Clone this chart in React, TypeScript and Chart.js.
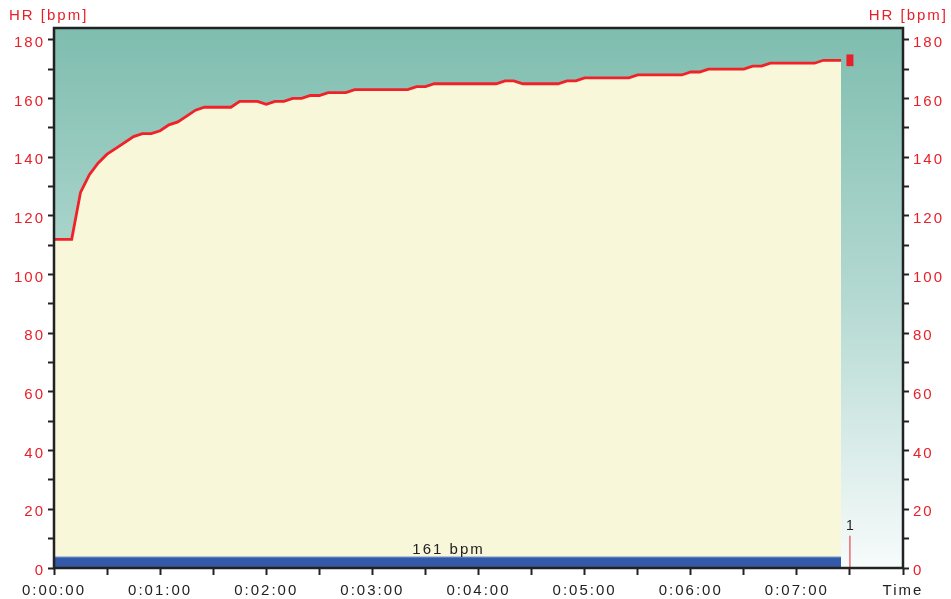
import React, { useEffect, useRef } from "react";
import { Chart, registerables } from "chart.js";

Chart.register(...registerables);

// Heart rate samples (seconds, bpm)
const TIMES = [0, 10, 15, 20, 25, 30, 35, 45, 50, 55, 60, 65, 70, 75, 80, 85, 100, 105, 115, 120, 125, 130, 135, 140, 145, 150, 155, 165, 170, 200, 205, 210, 215, 250, 255, 260, 265, 285, 290, 295, 300, 325, 330, 355, 360, 365, 370, 390, 395, 400, 405, 430, 435, 445];
const HR = [112, 112, 128, 134, 138, 141, 143, 147, 148, 148, 149, 151, 152, 154, 156, 157, 157, 159, 159, 158, 159, 159, 160, 160, 161, 161, 162, 162, 163, 163, 164, 164, 165, 165, 166, 166, 165, 165, 166, 166, 167, 167, 168, 168, 169, 169, 170, 170, 171, 171, 172, 172, 173, 173];

const X_MIN = 0;
const X_MAX = 480;
const Y_MIN = 0;
const Y_MAX = 184;
const X_TICK_STEP = 30;
const Y_TICK_STEP = 10;

const AVG_HR = 161;
const AVG_BAR_START = 0;
const AVG_BAR_END = 445;
const AVG_BAR_HEIGHT = 3.8;

const LAP_TIME = 450;
const LAP_HEIGHT = 11;
const LAP_LABEL = "1";

const CURRENT_TIME = 450;
const CURRENT_LOW = 171;
const CURRENT_HIGH = 175;

const FONT_FAMILY = "'Liberation Sans', Arial, sans-serif";
const FONT_SIZE = 15;
const SPACING = "2px";
const RED = "#e8202a";
const DARK = "#222222";

function fmtTime(v: number): string {
  if (v === X_MAX) return "Time";
  if (v % 60 !== 0) return "";
  const m = Math.floor(v / 60);
  return `0:${m < 10 ? "0" + m : m}:00`;
}

const spacingPlugin = {
  id: "spacing",
  beforeUpdate(chart: any) {
    chart.ctx.letterSpacing = SPACING;
  },
  beforeDraw(chart: any) {
    chart.ctx.letterSpacing = SPACING;
    const { ctx } = chart;
    ctx.save();
    ctx.fillStyle = "#ffffff";
    ctx.fillRect(0, 0, chart.width, chart.height);
    ctx.restore();
  },
};

const backgroundPlugin = {
  id: "bgGradient",
  beforeDatasetsDraw(chart: any) {
    const { ctx, chartArea } = chart;
    const { left, top, right, bottom } = chartArea;
    ctx.save();
    const g = ctx.createLinearGradient(0, top, 0, bottom);
    g.addColorStop(0, "#7ebdaf");
    g.addColorStop(0.5, "#b4d9d2");
    g.addColorStop(1, "#f7fbfb");
    ctx.fillStyle = g;
    ctx.fillRect(left, top, right - left, bottom - top);
    ctx.restore();
  },
  afterDatasetsDraw(chart: any) {
    const { ctx, chartArea, scales } = chart;
    const { left, top, right, bottom } = chartArea;
    const xs = scales.x;
    const ys = scales.y;
    ctx.save();
    ctx.letterSpacing = SPACING;
    ctx.font = `${FONT_SIZE}px ${FONT_FAMILY}`;
    // average label
    ctx.fillStyle = DARK;
    ctx.textAlign = "center";
    ctx.textBaseline = "middle";
    const cx = xs.getPixelForValue((AVG_BAR_START + AVG_BAR_END) / 2);
    ctx.fillText(`${AVG_HR} bpm`, cx + 1, ys.getPixelForValue(AVG_BAR_HEIGHT) - 7);
    // lap label
    ctx.font = `${FONT_SIZE - 1}px ${FONT_FAMILY}`;
    ctx.fillText(LAP_LABEL, xs.getPixelForValue(LAP_TIME) + 1, ys.getPixelForValue(LAP_HEIGHT) - 10);
    ctx.font = `${FONT_SIZE}px ${FONT_FAMILY}`;
    // frame
    ctx.strokeStyle = DARK;
    ctx.lineWidth = 2.5;
    ctx.strokeRect(left, top, right - left, bottom - top);
    // axis titles
    ctx.fillStyle = RED;
    ctx.textBaseline = "alphabetic";
    ctx.textAlign = "left";
    ctx.fillText("HR [bpm]", 9, 20);
    ctx.textAlign = "right";
    ctx.fillText("HR [bpm]", chart.width - 3, 20);
    ctx.restore();
  },
};

export default function App() {
  const ref = useRef<HTMLCanvasElement | null>(null);

  useEffect(() => {
    document.body.style.margin = "0";
    const canvas = ref.current!;
    const hrData = TIMES.map((t, i) => ({ x: t, y: HR[i] }));
    const yTicks = (scale: any) => {
      const t = [];
      for (let v = Y_MIN; v <= Y_MAX; v += Y_TICK_STEP) t.push({ value: v });
      scale.ticks = t;
    };
    const yCommon = {
      type: "linear",
      min: Y_MIN,
      max: Y_MAX,
      afterBuildTicks: yTicks,
      grid: {
        drawOnChartArea: false,
        drawTicks: true,
        tickLength: 6,
        tickWidth: 2,
        color: DARK,
      },
      border: { display: false },
      ticks: {
        color: RED,
        padding: 3,
        labelOffset: 3,
        font: { family: FONT_FAMILY, size: FONT_SIZE },
        callback: (v: number) => (v % 20 === 0 ? String(v) : ""),
      },
    };
    const chart = new Chart(canvas, {
      type: "line",
      data: {
        datasets: [
          {
            label: "current",
            data: [
              { x: CURRENT_TIME, y: CURRENT_LOW },
              { x: CURRENT_TIME, y: CURRENT_HIGH },
            ],
            borderColor: "#e8202a",
            borderWidth: 7,
            borderCapStyle: "butt",
            pointRadius: 0,
            fill: false,
          },
          {
            label: "lap",
            data: [
              { x: LAP_TIME, y: 0 },
              { x: LAP_TIME, y: LAP_HEIGHT },
            ],
            borderColor: "#e8202a",
            borderWidth: 1,
            pointRadius: 0,
            fill: false,
          },
          {
            label: "avg",
            data: [
              { x: AVG_BAR_START, y: AVG_BAR_HEIGHT },
              { x: AVG_BAR_END, y: AVG_BAR_HEIGHT },
            ],
            borderColor: "#a8bde0",
            borderWidth: 1,
            backgroundColor: "#3359a8",
            pointRadius: 0,
            fill: "origin",
          },
          {
            label: "HR",
            data: hrData,
            borderColor: "#ee2228",
            borderWidth: 2.8,
            backgroundColor: "#f8f7d9",
            pointRadius: 0,
            tension: 0,
            fill: "origin",
          },
        ],
      },
      options: {
        animation: false,
        responsive: false,
        maintainAspectRatio: false,
        layout: { padding: { top: 28, left: 0, right: 0, bottom: 0 } },
        plugins: {
          legend: { display: false },
          tooltip: { enabled: false },
        },
        scales: {
          x: {
            type: "linear",
            min: X_MIN,
            max: X_MAX,
            afterFit: (s: any) => {
              s.height = 31;
            },
            afterBuildTicks: (scale: any) => {
              const t = [];
              for (let v = X_MIN; v <= X_MAX; v += X_TICK_STEP) t.push({ value: v });
              scale.ticks = t;
            },
            grid: {
              drawOnChartArea: false,
              drawTicks: true,
              tickLength: 7,
              tickWidth: 2,
              color: DARK,
            },
            border: { display: false },
            ticks: {
              color: DARK,
              padding: 7,
              maxRotation: 0,
              autoSkip: false,
              font: { family: FONT_FAMILY, size: FONT_SIZE },
              callback: (v: number) => fmtTime(v),
            },
          },
          y: {
            ...yCommon,
            position: "left",
            afterFit: (s: any) => {
              s.width = 54;
            },
          },
          y2: {
            ...yCommon,
            position: "right",
            afterFit: (s: any) => {
              s.width = 48;
            },
            ticks: { ...yCommon.ticks, padding: 4 },
          },
        },
      } as any,
      plugins: [spacingPlugin, backgroundPlugin],
    } as any);
    return () => chart.destroy();
  }, []);

  return (
    <div style={{ width: 951, height: 599 }}>
      <canvas ref={ref} width={951} height={599} style={{ display: "block" }} />
    </div>
  );
}
